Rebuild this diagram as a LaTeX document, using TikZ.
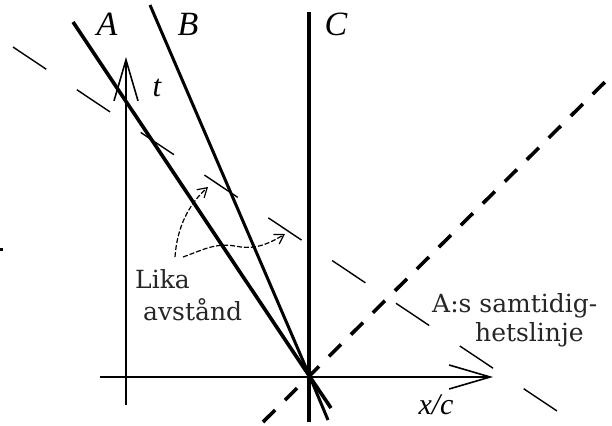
\documentclass[tikz,border=0pt]{standalone}
\usepackage{fontspec}
\setmainfont{Liberation Serif}
\newfontfamily\textlabel{DejaVu Serif}
\usetikzlibrary{arrows.meta}

\begin{document}
\begin{tikzpicture}[x=1pt, y=-1pt, >={Straight Barb[length=41pt, width=24pt]}]
	\tikzstyle{worldline} = [line width=3.6pt]
	\tikzstyle{axisline} = [line width=1.6pt]
	\tikzstyle{simline} = [line width=1.4pt, dash pattern=on 40pt off 36.8pt]
	\tikzstyle{lightline} = [line width=3.6pt, dash pattern=on 17pt off 14pt]
	\tikzstyle{hintarrow} = [line width=1.2pt, dash pattern=on 5pt off 2pt,
		-{Straight Barb[length=9pt, width=11pt, line width=1.2pt]}]
	\tikzstyle{eventlabel} = [font=\fontsize{34}{36}\selectfont\itshape, inner sep=0pt]
	\tikzstyle{notelabel} = [font=\textlabel\fontsize{25}{27}\selectfont, inner sep=0pt, anchor=base west, text=black!85]
	\useasboundingbox (0,0) rectangle (612,425);

	% events and world line ends
	\coordinate (O) at (310,377);
	\coordinate (A1) at (73,22);
	\coordinate (A2) at (331,408);
	\coordinate (B1) at (150,5);
	\coordinate (B2) at (328,420);
	\coordinate (C1) at (309,12);
	\coordinate (C2) at (309,422);

	% axes
	\draw[axisline, ->] (126,405) coordinate (t0) -- (126,57) coordinate (t1);
	\draw[axisline, ->] (100,377) coordinate (x0) -- (493,377) coordinate (x1);

	% world lines
	\draw[worldline] (A1) -- (O) -- (A2);
	\draw[worldline, line width=3pt] (B1) -- (O) -- (B2);
	\draw[worldline] (C1) -- (C2);

	% light line and simultaneity of A
	\draw[lightline] (263,422) coordinate (L1) -- (612,75) coordinate (L2);
	\draw[simline] (13,47) coordinate (S1) -- (557,411) coordinate (S2);

	\path
		node[eventlabel] (A) at (107,24) {A}
		node[eventlabel] (B) at (188,24) {B}
		node[eventlabel] (C) at (336,24) {C}
		node[eventlabel, font=\fontsize{31}{33}\selectfont\itshape] (t) at (157,88) {t}
		node[eventlabel, font=\fontsize{30}{32}\selectfont\itshape] (xc) at (436,405) {x/c}
		node[notelabel] (lika) at (135,288) {Lika}
		node[notelabel] (avst) at (143,320) {avstånd}
		node[notelabel] (samt) at (432,312) {A:s samtidig-}
		node[notelabel] (hets) at (475,341) {hetslinje}
	;

	% equal distance hints
	\coordinate (AB) at (208,187);
	\coordinate (BC) at (285,234);
	\draw[hintarrow] (175,257) .. controls (177,228) and (188,205) .. (AB);
	\draw[hintarrow] (183,257) .. controls (205,249) and (215,243) .. (235,246)
		.. controls (250,249) and (262,248) .. (BC);

	\fill (0,247.5) rectangle (2.5,250.5);
\end{tikzpicture}
\end{document}
